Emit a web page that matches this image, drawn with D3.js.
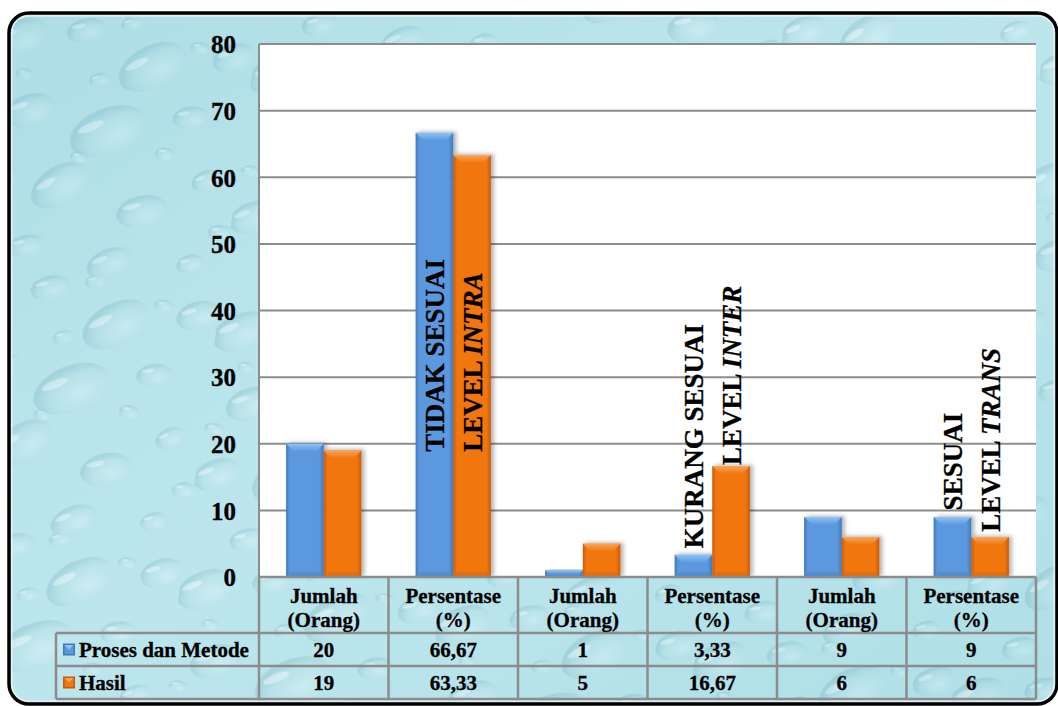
<!DOCTYPE html>
<html>
<head>
<meta charset="utf-8">
<script src="https://cdn.jsdelivr.net/npm/d3@7"></script>
</head>
<body style="margin:0;padding:0;background:#ffffff">
<svg id="chart" width="1058" height="706" style="display:block"></svg>
<script>
// ---- data ----
const categories = [
  ["Jumlah", "(Orang)"],
  ["Persentase", "(%)"],
  ["Jumlah", "(Orang)"],
  ["Persentase", "(%)"],
  ["Jumlah", "(Orang)"],
  ["Persentase", "(%)"]
];
const seriesNames = ["Proses dan Metode", "Hasil"];
const prosesValues = [20, 66.67, 1, 3.33, 9, 9];
const hasilValues  = [19, 63.33, 5, 16.67, 6, 6];
const prosesLabels = ["20", "66,67", "1", "3,33", "9", "9"];
const hasilLabels  = ["19", "63,33", "5", "16,67", "6", "6"];
const yTicks = [0, 10, 20, 30, 40, 50, 60, 70, 80];

// vertical notes written on the bars: [category, series, start value, plain part, italic part]
const notes = [
  [1, 0, 18.8, "TIDAK SESUAI", ""],
  [1, 1, 18.8, "LEVEL ", "INTRA"],
  [3, 0, 4.3, "KURANG SESUAI", ""],
  [3, 1, 16.8, "LEVEL ", "INTER"],
  [5, 0, 10, "SESUAI", ""],
  [5, 1, 6.8, "LEVEL ", "TRANS"]
];

const seriesValues = [prosesValues, hasilValues];
const seriesCellLabels = [prosesLabels, hasilLabels];

const FONT = "Liberation Serif";

// ---- layout ----
const svg = d3.select("#chart");
const plot = { left: 259, right: 1036, top: 44, bottom: 577 };
const tableLeft = 56;
const rowHeader = [577, 633];
const rowLines = [633, 666, 699];

const x = d3.scaleBand().domain(d3.range(categories.length)).range([plot.left, plot.right]).paddingInner(0).paddingOuter(0);
const x1 = d3.scaleBand().domain([0, 1]).range([0, x.bandwidth()]).paddingInner(0).paddingOuter(0.72);
const y = d3.scaleLinear().domain([0, 80]).range([plot.bottom, plot.top]);

const defs = svg.append("defs");

// ---- water-drop background texture ----
const drops = [
  [25, 35, 30, 18, -30], [90, 18, 20, 12, -20], [160, 45, 36, 21, -35], [45, 105, 26, 16, -25],
  [125, 115, 40, 23, -30], [205, 90, 18, 11, -15], [20, 180, 24, 15, -30], [85, 175, 32, 19, -40],
  [170, 190, 26, 16, -20], [230, 150, 16, 10, -30], [240, 25, 22, 14, -25], [60, 240, 18, 11, -20],
  [145, 245, 24, 14, -30], [225, 235, 14, 9, -20], [110, 65, 11, 7, -20], [205, 20, 10, 6, 0],
  [35, 70, 9, 6, 0], [185, 130, 10, 7, 0], [100, 145, 9, 6, 0], [12, 135, 10, 6, 0],
  [250, 200, 12, 8, -10], [135, 5, 12, 7, -20]
];
const tile = defs.append("pattern").attr("id", "waterTile")
  .attr("patternUnits", "userSpaceOnUse").attr("width", 260).attr("height", 260)
  .attr("patternTransform", "rotate(8)");
tile.append("rect").attr("width", 260).attr("height", 260).attr("fill", "#ade0e8");
const dropGrad = defs.append("radialGradient").attr("id", "dropGrad")
  .attr("cx", "60%").attr("cy", "65%").attr("r", "60%");
dropGrad.append("stop").attr("offset", "0%").attr("stop-color", "#c8edf2");
dropGrad.append("stop").attr("offset", "70%").attr("stop-color", "#aadce5");
dropGrad.append("stop").attr("offset", "100%").attr("stop-color", "#8cc7d3");
drops.forEach(([cx, cy, rx, ry, rot]) => {
  const g = tile.append("g").attr("transform", `translate(${cx},${cy}) rotate(${rot})`);
  g.append("ellipse").attr("rx", rx).attr("ry", ry).attr("fill", "url(#dropGrad)").attr("opacity", 0.75);
  g.append("ellipse").attr("cx", -rx * 0.35).attr("cy", -ry * 0.45).attr("rx", rx * 0.35).attr("ry", ry * 0.18)
    .attr("fill", "#eafafc").attr("opacity", 0.5);
});
const shade = defs.append("linearGradient").attr("id", "bgShade").attr("x1", "0").attr("x2", "1").attr("y1", "0").attr("y2", "1");
shade.append("stop").attr("offset", "0%").attr("stop-color", "#6fb7c6").attr("stop-opacity", 0.15);
shade.append("stop").attr("offset", "50%").attr("stop-color", "#ffffff").attr("stop-opacity", 0.1);
shade.append("stop").attr("offset", "100%").attr("stop-color", "#6fb7c6").attr("stop-opacity", 0.1);

const frame = { x: 9, y: 13, w: 1048, h: 691, r: 20 };
defs.append("clipPath").attr("id", "frameClip").append("rect")
  .attr("x", frame.x).attr("y", frame.y).attr("width", frame.w).attr("height", frame.h)
  .attr("rx", frame.r);
const bg = svg.append("g").attr("clip-path", "url(#frameClip)");
bg.append("rect").attr("x", frame.x).attr("y", frame.y).attr("width", frame.w).attr("height", frame.h).attr("fill", "url(#waterTile)");
bg.append("rect").attr("x", frame.x).attr("y", frame.y).attr("width", frame.w).attr("height", frame.h).attr("fill", "url(#bgShade)");
bg.append("rect").attr("x", frame.x).attr("y", frame.y).attr("width", frame.w).attr("height", frame.h).attr("fill", "#ffffff").attr("opacity", 0.1);

// frame border: black outer line with a thin light inner line
svg.append("rect").attr("x", frame.x).attr("y", frame.y).attr("width", frame.w).attr("height", frame.h)
  .attr("rx", frame.r).attr("fill", "none").attr("stroke", "#000").attr("stroke-width", 3.5);
svg.append("rect").attr("x", frame.x + 2.8).attr("y", frame.y + 2.8).attr("width", frame.w - 5.6).attr("height", frame.h - 5.6)
  .attr("rx", frame.r - 2.8).attr("fill", "none").attr("stroke", "#f4f4f4").attr("stroke-width", 1.2);

// ---- plot area ----
svg.append("rect").attr("x", plot.left).attr("y", plot.top)
  .attr("width", plot.right - plot.left).attr("height", plot.bottom - plot.top).attr("fill", "#ffffff");

// gridlines
svg.append("g").selectAll("line").data(yTicks.filter(t => t > 0)).join("line")
  .attr("x1", plot.left).attr("x2", plot.right)
  .attr("y1", d => y(d)).attr("y2", d => y(d))
  .attr("stroke", "#8c8c8c").attr("stroke-width", 2);

function styleText(sel, size) {
  return sel.style("font-family", FONT).style("font-weight", "bold").style("font-size", size + "px")
    .attr("fill", "#000").attr("stroke", "#000").attr("stroke-width", 0.3);
}

// y axis labels
const yAxis = d3.axisLeft(y).tickValues(yTicks).tickSize(0).tickPadding(0);
const yg = svg.append("g").attr("transform", `translate(236,0)`).call(yAxis);
yg.select(".domain").remove();
yg.attr("font-family", null).attr("font-size", null);
styleText(yg.selectAll("text"), 25).attr("dy", "0.35em").attr("x", 0);

// ---- bars ----
const palettes = [
  { mid: "#5b98de", edge: "#4178bb", top: "#8fc3f6", side: "#4a86cc" },
  { mid: "#f0760f", edge: "#c85b08", top: "#f8a559", side: "#dd680b" }
];
palettes.forEach((p, i) => {
  const g = defs.append("linearGradient").attr("id", "barGrad" + i).attr("x1", "0").attr("x2", "1");
  g.append("stop").attr("offset", "0%").attr("stop-color", p.edge);
  g.append("stop").attr("offset", "10%").attr("stop-color", p.mid);
  g.append("stop").attr("offset", "88%").attr("stop-color", p.mid);
  g.append("stop").attr("offset", "100%").attr("stop-color", p.edge);
  const t = defs.append("linearGradient").attr("id", "topGrad" + i).attr("x1", "0").attr("x2", "0").attr("y1", "0").attr("y2", "1");
  t.append("stop").attr("offset", "0%").attr("stop-color", p.top);
  t.append("stop").attr("offset", "100%").attr("stop-color", p.mid);
});
const shadow = defs.append("filter").attr("id", "barShadow").attr("x", "-20%").attr("y", "-20%").attr("width", "160%").attr("height", "140%");
shadow.append("feDropShadow").attr("dx", 3).attr("dy", -1).attr("stdDeviation", 2)
  .attr("flood-color", "#000").attr("flood-opacity", 0.3);

const barData = [];
seriesValues.forEach((vals, s) => vals.forEach((v, c) => barData.push({ s, c, v })));

const bars = svg.append("g").selectAll("g").data(barData).join("g")
  .attr("transform", d => `translate(${x(d.c) + x1(d.s)},0)`);
bars.append("rect")
  .attr("x", 0).attr("width", x1.bandwidth())
  .attr("y", d => y(d.v)).attr("height", d => y(0) - y(d.v))
  .attr("fill", d => `url(#barGrad${d.s})`).attr("filter", "url(#barShadow)");
bars.append("path")
  .attr("d", d => {
    const w = x1.bandwidth(), top = y(d.v), h = y(0) - top;
    const b = Math.min(8, h / 2);
    return `M0,${top} L${w},${top} L${w - b},${top + b} L${b},${top + b} Z`;
  })
  .attr("fill", d => `url(#topGrad${d.s})`);
bars.append("path")
  .attr("d", d => {
    const w = x1.bandwidth(), bottom = y(0), h = y(0) - y(d.v);
    const b = Math.min(5, h / 3);
    return `M0,${bottom} L${w},${bottom} L${w - b},${bottom - b} L${b},${bottom - b} Z`;
  })
  .attr("fill", d => palettes[d.s].side).attr("opacity", 0.6);

// vertical notes on bars
const noteG = styleText(svg.append("g").selectAll("text").data(notes).join("text"), 27)
  .attr("transform", d => `translate(${x(d[0]) + x1(d[1]) + x1.bandwidth() / 2},${y(d[2])}) rotate(-90)`)
  .attr("dy", "0.36em").attr("text-anchor", "start");
noteG.append("tspan").text(d => d[3]);
noteG.append("tspan").style("font-style", "italic").text(d => d[4]);

// left plot edge
svg.append("line").attr("x1", plot.left).attr("x2", plot.left).attr("y1", plot.top).attr("y2", plot.bottom)
  .attr("stroke", "#8c8c8c").attr("stroke-width", 2);

// ---- data table ----
const lineColor = "#8c8c8c";
const tg = svg.append("g");
tg.append("line").attr("x1", plot.left).attr("x2", plot.right).attr("y1", rowHeader[0]).attr("y2", rowHeader[0])
  .attr("stroke", lineColor).attr("stroke-width", 2.5);
rowLines.forEach(yy => tg.append("line").attr("x1", tableLeft).attr("x2", plot.right).attr("y1", yy).attr("y2", yy)
  .attr("stroke", lineColor).attr("stroke-width", 2.5));
const boundaries = d3.range(categories.length + 1).map(i => i < categories.length ? x(i) : plot.right);
boundaries.forEach(xx => tg.append("line").attr("x1", xx).attr("x2", xx).attr("y1", rowHeader[0]).attr("y2", rowLines[2])
  .attr("stroke", lineColor).attr("stroke-width", 2.5));
tg.append("line").attr("x1", tableLeft).attr("x2", tableLeft).attr("y1", rowLines[0]).attr("y2", rowLines[2])
  .attr("stroke", lineColor).attr("stroke-width", 2.5);

// category header labels
const head = styleText(tg.append("g").selectAll("text").data(categories).join("text"), 21)
  .attr("x", (d, i) => x(i) + x.bandwidth() / 2).attr("text-anchor", "middle");
head.append("tspan").attr("x", (d, i) => x(i) + x.bandwidth() / 2).attr("y", 603).text(d => d[0]);
head.append("tspan").attr("x", (d, i) => x(i) + x.bandwidth() / 2).attr("y", 627).text(d => d[1]);

// value rows
seriesCellLabels.forEach((labels, s) => {
  const cy = (rowLines[s] + rowLines[s + 1]) / 2;
  styleText(tg.append("g").selectAll("text").data(labels).join("text"), 21)
    .attr("x", (d, i) => x(i) + x.bandwidth() / 2).attr("y", cy).attr("dy", "0.35em")
    .attr("text-anchor", "middle").text(d => d);
});

// legend keys
seriesNames.forEach((name, s) => {
  const cy = (rowLines[s] + rowLines[s + 1]) / 2;
  const kx = 63, ks = 12, ky = cy - ks / 2;
  const p = palettes[s];
  tg.append("rect").attr("x", kx).attr("y", ky).attr("width", ks).attr("height", ks).attr("fill", p.edge);
  tg.append("rect").attr("x", kx + 1.5).attr("y", ky + 1.5).attr("width", ks - 3).attr("height", ks - 3).attr("fill", p.mid);
  tg.append("path").attr("d", `M${kx + 1.5},${ky + 1.5} L${kx + ks - 1.5},${ky + 1.5} L${kx + ks / 2},${ky + ks / 2} Z`).attr("fill", p.top);
  styleText(tg.append("text"), 21).attr("x", kx + ks + 4).attr("y", cy).attr("dy", "0.35em").text(name);
});
</script>
</body>
</html>
